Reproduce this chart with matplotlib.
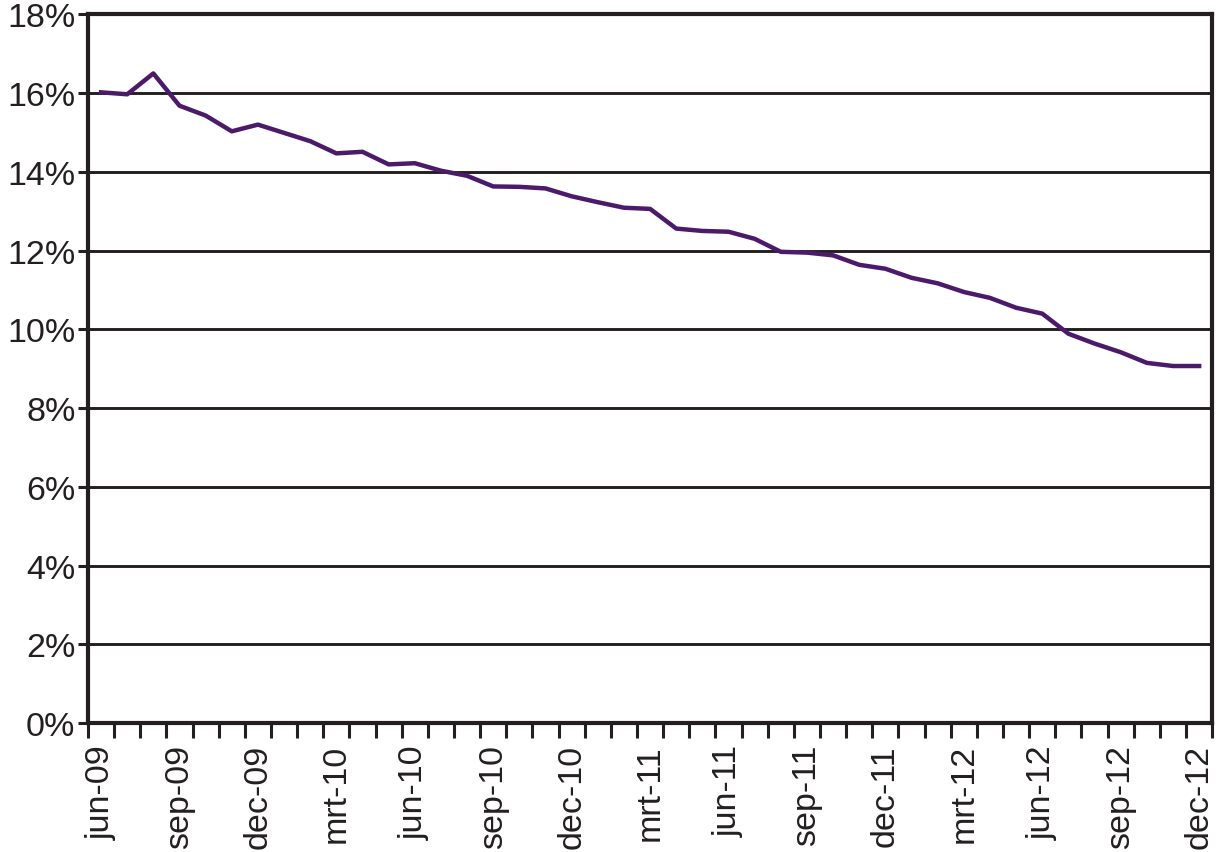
import numpy as np
import matplotlib
matplotlib.use("Agg")
import matplotlib.pyplot as plt
from matplotlib.ticker import FixedLocator, FuncFormatter

# monthly share, jun-09 .. dec-12
values = [16.02, 15.97, 16.5, 15.68, 15.43, 15.03, 15.2, 14.99, 14.78, 14.47,
          14.51, 14.19, 14.22, 14.03, 13.9, 13.63, 13.62, 13.58, 13.38, 13.23,
          13.09, 13.06, 12.56, 12.5, 12.48, 12.3, 11.97, 11.95, 11.88, 11.64,
          11.54, 11.31, 11.17, 10.95, 10.8, 10.55, 10.4, 9.89, 9.64, 9.42,
          9.15, 9.07, 9.07]
tick_labels = ['jun-09', 'sep-09', 'dec-09', 'mrt-10', 'jun-10', 'sep-10',
               'dec-10', 'mrt-11', 'jun-11', 'sep-11', 'dec-11', 'mrt-12',
               'jun-12', 'sep-12', 'dec-12']

plt.rcParams['font.family'] = ['Liberation Sans', 'DejaVu Sans']
ink = '#231f20'

fig = plt.figure(figsize=(12.22, 8.53), dpi=100)
ax = fig.add_axes([0.072, 0.151, 0.92, 0.831])

x = np.arange(len(values))
ax.plot(x, values, color='#4b1a6b', linewidth=3.2, zorder=3)

ax.set_xlim(-0.5, len(values) - 0.5)
ax.set_ylim(0, 18)

ax.set_yticks(np.arange(0, 19, 2))
ax.yaxis.set_major_formatter(FuncFormatter(lambda v, p: '%d%%' % v))
ax.grid(axis='y', color=ink, linewidth=2.1, zorder=1)

ax.set_xticks(np.arange(0, len(values), 3))
ax.set_xticklabels(tick_labels, rotation=90)
ax.xaxis.set_minor_locator(FixedLocator(np.arange(-0.5, len(values), 1)))
ax.tick_params(axis='x', which='major', length=0, pad=15, labelsize=24.5, colors=ink)
ax.tick_params(axis='x', which='minor', length=11, width=2.2, direction='out', color=ink)
ax.tick_params(axis='y', length=7, width=2.2, pad=2, labelsize=24.5, colors=ink)

for s in ax.spines.values():
    s.set_linewidth(3)
    s.set_color(ink)

fig.savefig('out.png', dpi=100)
